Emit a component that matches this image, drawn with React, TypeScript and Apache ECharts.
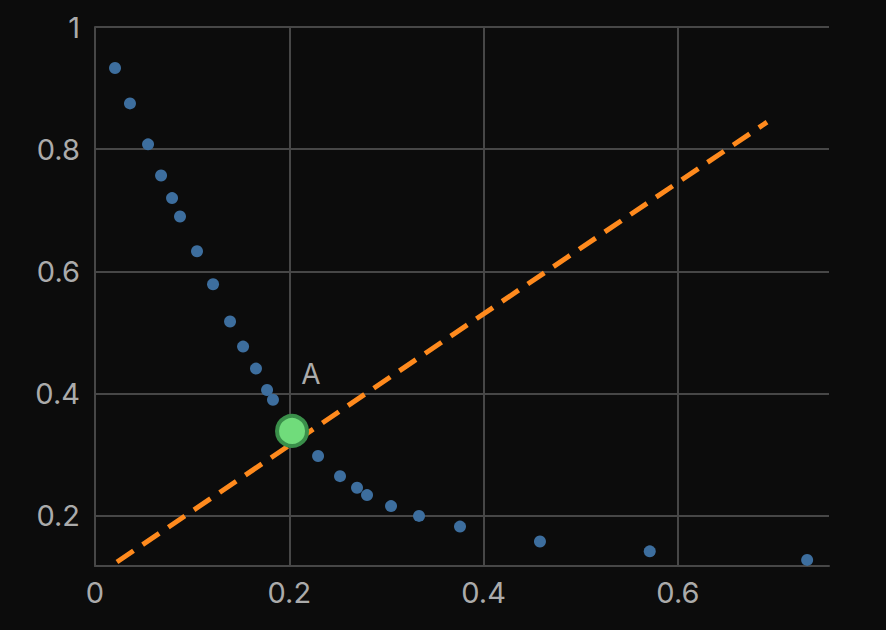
import React, { useEffect, useRef } from "react";
import * as echarts from "echarts";

const scatterX = [0.0206, 0.036, 0.0546, 0.068, 0.0793, 0.0875, 0.105, 0.1215, 0.139, 0.1524, 0.1657, 0.1771, 0.1832, 0.2296, 0.2522, 0.2697, 0.28, 0.3047, 0.3335, 0.3757, 0.458, 0.571, 0.733];
const scatterY = [0.933, 0.875, 0.808, 0.757, 0.72, 0.69, 0.633, 0.579, 0.518, 0.477, 0.441, 0.406, 0.39, 0.298, 0.265, 0.246, 0.234, 0.216, 0.2, 0.1825, 0.158, 0.142, 0.128];
const lineX = [0.0226, 0.6917];
const lineY = [0.1246, 0.8443];
const pointA = [0.2028, 0.339];
const pointLabel = "A";
const xRange = [0, 0.7555];
const yRange = [0.118, 1];

const isTick = (v: number) => Math.abs(v / 0.2 - Math.round(v / 0.2)) < 1e-6;
const fmt = (v: number) => (isTick(v) ? String(Math.round(v * 10) / 10) : "");

export default function App() {
  const ref = useRef<HTMLDivElement>(null);
  useEffect(() => {
    if (!ref.current) return;
    const chart = echarts.init(ref.current, null, { renderer: "svg" });
    const grid = "#474747";
    const font = "Inter, 'Liberation Sans', sans-serif";
    chart.setOption({
      animation: false,
      backgroundColor: "#0c0c0c",
      grid: { left: 95, top: 27, right: 57, bottom: 64, containLabel: false },
      xAxis: {
        type: "value",
        min: xRange[0],
        max: xRange[1],
        axisLine: { show: true, lineStyle: { color: grid, width: 2 } },
        axisTick: { show: false },
        axisLabel: { color: "#ababab", fontSize: 29, fontFamily: font, margin: 12, formatter: fmt },
        splitLine: { show: true, lineStyle: { color: [grid, grid, grid, grid, "rgba(0,0,0,0)"], width: 2 } },
      },
      yAxis: {
        type: "value",
        min: yRange[0],
        max: yRange[1],
        axisLine: { show: true, lineStyle: { color: grid, width: 2 } },
        axisTick: { show: false },
        axisLabel: { color: "#ababab", fontSize: 29, fontFamily: font, margin: 15, formatter: fmt },
        splitLine: { show: true, lineStyle: { color: grid, width: 2 } },
      },
      series: [
        {
          type: "scatter",
          data: scatterX.map((x, i) => [x, scatterY[i]]),
          symbolSize: 12,
          itemStyle: { color: "#3d6e9e", opacity: 1 },
          z: 2,
        },
        {
          type: "line",
          data: lineX.map((x, i) => [x, lineY[i]]),
          showSymbol: false,
          symbol: "none",
          lineStyle: { color: "#ff8a1d", width: 5, type: [20, 11] },
          z: 3,
        },
        {
          type: "scatter",
          data: [pointA],
          symbolSize: 30,
          itemStyle: { color: "#70dc7b", borderColor: "#3a8f4a", borderWidth: 4, opacity: 1 },
          label: {
            show: true,
            formatter: pointLabel,
            position: "inside",
            offset: [19, -57],
            color: "#ababab",
            fontSize: 28,
            fontFamily: font,
          },
          z: 4,
        },
      ],
    });
    return () => chart.dispose();
  }, []);
  return <div ref={ref} style={{ position: "fixed", left: 0, top: 0, width: 886, height: 630 }} />;
}
